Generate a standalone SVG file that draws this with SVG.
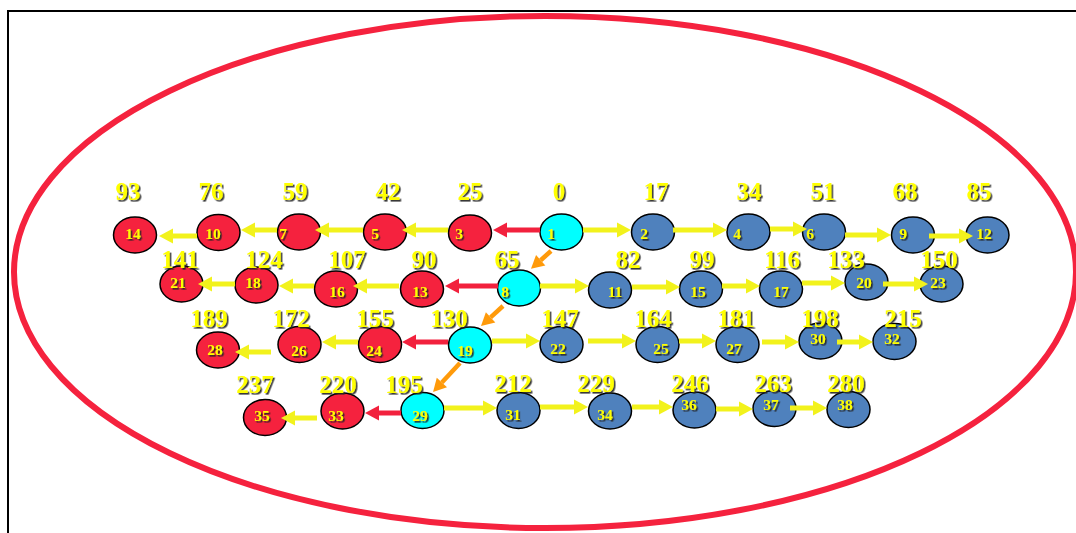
<svg xmlns="http://www.w3.org/2000/svg" width="1076" height="533" viewBox="0 0 1076 533">
<defs>
<filter id="sh" x="-30%" y="-30%" width="160%" height="160%"><feDropShadow dx="1.6" dy="1.6" stdDeviation="0.6" flood-color="#222" flood-opacity="0.9"/></filter>
<marker id="ay" markerUnits="userSpaceOnUse" markerWidth="16" markerHeight="16" viewBox="0 -8 16 16" refX="0" refY="0" orient="auto" overflow="visible"><path d="M0,-7.5 L14,0 L0,7.5z" fill="#f2f21c"/></marker>
<marker id="ar" markerUnits="userSpaceOnUse" markerWidth="16" markerHeight="16" viewBox="0 -8 16 16" refX="0" refY="0" orient="auto" overflow="visible"><path d="M0,-7.5 L14,0 L0,7.5z" fill="#f2213d"/></marker>
<marker id="ao" markerUnits="userSpaceOnUse" markerWidth="16" markerHeight="16" viewBox="0 -8 16 16" refX="0" refY="0" orient="auto" overflow="visible"><path d="M0,-7 L13,0 L0,7z" fill="#ff9a0a"/></marker>
</defs>
<style>
.r{fill:#f5223e;stroke:#000;stroke-width:1.5}
.b{fill:#4f81bd;stroke:#000;stroke-width:1.5}
.c{fill:#00ffff;stroke:#000;stroke-width:1.5}
.n{font-family:"Liberation Serif","Times New Roman",serif;font-weight:bold;font-size:15.5px;fill:#ffff00;text-anchor:middle;filter:url(#sh)}
.d{font-family:"Liberation Serif","Times New Roman",serif;font-weight:bold;font-size:25px;fill:#ffff00;text-anchor:middle;filter:url(#sh)}
.y{stroke:#f2f21c;stroke-width:5;fill:none;marker-end:url(#ay)}
.rr{stroke:#f2213d;stroke-width:5;fill:none;marker-end:url(#ar)}
.o{stroke:#ff9a0a;stroke-width:4.5;fill:none;marker-end:url(#ao)}
</style>
<rect x="0" y="0" width="1076" height="533" fill="#fff"/>
<rect x="8" y="11" width="1090" height="540" fill="none" stroke="#000" stroke-width="2"/>
<ellipse cx="545" cy="272" rx="531" ry="256" fill="none" stroke="#f5223e" stroke-width="6"/>

<g id="n14"><ellipse class="r" cx="135" cy="235" rx="21.5" ry="18"/><text class="n" x="133" y="239">14</text><text class="d" x="128" y="200">93</text></g>
<g id="n10"><ellipse class="r" cx="218.5" cy="232.5" rx="21.5" ry="18"/><text class="n" x="213" y="239">10</text><text class="d" x="211" y="200">76</text></g>
<g id="n7"><ellipse class="r" cx="299" cy="232" rx="21.5" ry="18"/><text class="n" x="283" y="239">7</text><text class="d" x="295" y="200">59</text></g>
<g id="n5"><ellipse class="r" cx="385" cy="232" rx="21.5" ry="18"/><text class="n" x="375" y="239">5</text><text class="d" x="388" y="200">42</text></g>
<g id="n3"><ellipse class="r" cx="470" cy="233" rx="21.5" ry="18"/><text class="n" x="459" y="239">3</text><text class="d" x="470" y="200">25</text></g>
<g id="n1"><ellipse class="c" cx="561.5" cy="232" rx="21.5" ry="18"/><text class="n" x="551" y="239">1</text><text class="d" x="559" y="200">0</text></g>
<g id="n2"><ellipse class="b" cx="653" cy="232" rx="21.5" ry="18"/><text class="n" x="644" y="239">2</text><text class="d" x="656" y="200">17</text></g>
<g id="n4"><ellipse class="b" cx="748.5" cy="232" rx="21.5" ry="18"/><text class="n" x="737" y="239">4</text><text class="d" x="749" y="200">34</text></g>
<g id="n6"><ellipse class="b" cx="824" cy="232" rx="21.5" ry="18"/><text class="n" x="810" y="239">6</text><text class="d" x="823" y="200">51</text></g>
<g id="n9"><ellipse class="b" cx="913" cy="235" rx="21.5" ry="18"/><text class="n" x="903" y="239">9</text><text class="d" x="905" y="200">68</text></g>
<g id="n12"><ellipse class="b" cx="987.5" cy="235" rx="21.5" ry="18"/><text class="n" x="984" y="239">12</text><text class="d" x="979" y="200">85</text></g>

<g id="n21"><ellipse class="r" cx="181.5" cy="284" rx="21.5" ry="18"/><text class="n" x="178" y="288">21</text><text class="d" x="180" y="268">141</text></g>
<g id="n18"><ellipse class="r" cx="256.5" cy="285" rx="21.5" ry="18"/><text class="n" x="253" y="288">18</text><text class="d" x="264" y="268">124</text></g>
<g id="n16"><ellipse class="r" cx="336" cy="289" rx="21.5" ry="18"/><text class="n" x="337" y="297">16</text><text class="d" x="347" y="268">107</text></g>
<g id="n13"><ellipse class="r" cx="422" cy="289" rx="21.5" ry="18"/><text class="n" x="420" y="297">13</text><text class="d" x="424" y="268">90</text></g>
<g id="n8"><ellipse class="c" cx="519" cy="288" rx="21.5" ry="18"/><text class="n" x="505" y="297">8</text><text class="d" x="507" y="268">65</text></g>
<g id="n11"><ellipse class="b" cx="610" cy="290" rx="21.5" ry="18"/><text class="n" x="615" y="297">11</text><text class="d" x="628" y="268">82</text></g>
<g id="n15"><ellipse class="b" cx="701" cy="289" rx="21.5" ry="18"/><text class="n" x="698" y="297">15</text><text class="d" x="702" y="268">99</text></g>
<g id="n17"><ellipse class="b" cx="781" cy="289" rx="21.5" ry="18"/><text class="n" x="781" y="297">17</text><text class="d" x="782" y="268">116</text></g>
<g id="n20"><ellipse class="b" cx="866.5" cy="282" rx="21.5" ry="18"/><text class="n" x="864" y="288">20</text><text class="d" x="846" y="268">133</text></g>
<g id="n23"><ellipse class="b" cx="941.5" cy="284" rx="21.5" ry="18"/><text class="n" x="938" y="288">23</text><text class="d" x="939" y="268">150</text></g>

<g id="n28"><ellipse class="r" cx="218" cy="350" rx="21.5" ry="18"/><text class="n" x="215" y="355">28</text><text class="d" x="209" y="327">189</text></g>
<g id="n26"><ellipse class="r" cx="299.5" cy="344.5" rx="21.5" ry="18"/><text class="n" x="299" y="356">26</text><text class="d" x="291" y="327">172</text></g>
<g id="n24"><ellipse class="r" cx="380" cy="344.5" rx="21.5" ry="18"/><text class="n" x="374" y="356">24</text><text class="d" x="375" y="327">155</text></g>
<g id="n19"><ellipse class="c" cx="470" cy="345" rx="21.5" ry="18"/><text class="n" x="465" y="356">19</text><text class="d" x="449" y="327">130</text></g>
<g id="n22"><ellipse class="b" cx="561.5" cy="344.5" rx="21.5" ry="18"/><text class="n" x="558" y="354">22</text><text class="d" x="560" y="327">147</text></g>
<g id="n25"><ellipse class="b" cx="657.5" cy="344.5" rx="21.5" ry="18"/><text class="n" x="661" y="354">25</text><text class="d" x="653" y="327">164</text></g>
<g id="n27"><ellipse class="b" cx="737.5" cy="344.5" rx="21.5" ry="18"/><text class="n" x="734" y="354">27</text><text class="d" x="736" y="327">181</text></g>
<g id="n30"><ellipse class="b" cx="820.5" cy="341" rx="21.5" ry="18"/><text class="n" x="818" y="344">30</text><text class="d" x="820" y="327">198</text></g>
<g id="n32"><ellipse class="b" cx="894.5" cy="341.5" rx="21.5" ry="18"/><text class="n" x="892" y="344">32</text><text class="d" x="903" y="327">215</text></g>

<g id="n35"><ellipse class="r" cx="265" cy="417.5" rx="21.5" ry="18"/><text class="n" x="262" y="421">35</text><text class="d" x="255" y="393">237</text></g>
<g id="n33"><ellipse class="r" cx="342.5" cy="411" rx="21.5" ry="18"/><text class="n" x="336" y="421">33</text><text class="d" x="338" y="393">220</text></g>
<g id="n29"><ellipse class="c" cx="422.5" cy="410.5" rx="21.5" ry="18"/><text class="n" x="420" y="421">29</text><text class="d" x="404" y="393">195</text></g>
<g id="n31"><ellipse class="b" cx="518.5" cy="410.5" rx="21.5" ry="18"/><text class="n" x="513" y="420">31</text><text class="d" x="513" y="392">212</text></g>
<g id="n34"><ellipse class="b" cx="610" cy="411" rx="21.5" ry="18"/><text class="n" x="605" y="420">34</text><text class="d" x="596" y="392">229</text></g>
<g id="n36"><ellipse class="b" cx="694.5" cy="410" rx="21.5" ry="18"/><text class="n" x="689" y="410">36</text><text class="d" x="690" y="392">246</text></g>
<g id="n37"><ellipse class="b" cx="774.5" cy="408.5" rx="21.5" ry="18"/><text class="n" x="771" y="410">37</text><text class="d" x="773" y="392">263</text></g>
<g id="n38"><ellipse class="b" cx="848.5" cy="409.5" rx="21.5" ry="18"/><text class="n" x="845" y="410">38</text><text class="d" x="846" y="392">280</text></g>

<g id="connectors">
<line class="y" x1="197" y1="236" x2="173" y2="236"/>
<line class="y" x1="277" y1="230" x2="255" y2="230"/>
<line class="y" x1="363" y1="230" x2="329" y2="230"/>
<line class="y" x1="448" y1="230" x2="416" y2="230"/>
<line class="rr" x1="540" y1="230" x2="507" y2="230"/>
<line class="y" x1="583" y1="230" x2="617" y2="230"/>
<line class="y" x1="673" y1="230" x2="713" y2="230"/>
<line class="y" x1="770" y1="229" x2="793" y2="229"/>
<line class="y" x1="845" y1="235" x2="877" y2="235"/>
<line class="y" x1="929" y1="236" x2="959" y2="236"/>
<line class="o" x1="551" y1="251" x2="540.7" y2="260.2"/>
<line class="y" x1="235" y1="284" x2="212" y2="284"/>
<line class="y" x1="314" y1="286" x2="293" y2="286"/>
<line class="y" x1="399" y1="286" x2="367" y2="286"/>
<line class="rr" x1="498" y1="286" x2="459" y2="286"/>
<line class="y" x1="540" y1="286" x2="575" y2="286"/>
<line class="y" x1="632" y1="287" x2="666" y2="287"/>
<line class="y" x1="722" y1="286" x2="746" y2="286"/>
<line class="y" x1="802" y1="283" x2="831" y2="283"/>
<line class="y" x1="883" y1="284" x2="914" y2="284"/>
<line class="o" x1="503" y1="306" x2="490.6" y2="317.3"/>
<line class="y" x1="271" y1="352" x2="249" y2="352"/>
<line class="y" x1="358" y1="342" x2="336" y2="342"/>
<line class="rr" x1="448" y1="342" x2="416" y2="342"/>
<line class="y" x1="492" y1="341" x2="526" y2="341"/>
<line class="y" x1="588" y1="341" x2="622" y2="341"/>
<line class="y" x1="679" y1="341" x2="702" y2="341"/>
<line class="y" x1="762" y1="342" x2="785" y2="342"/>
<line class="y" x1="837" y1="342" x2="859" y2="342"/>
<line class="o" x1="460" y1="363" x2="441.9" y2="382.5"/>
<line class="y" x1="317" y1="418" x2="295" y2="418"/>
<line class="rr" x1="401" y1="413" x2="379" y2="413"/>
<line class="y" x1="444" y1="408" x2="483" y2="408"/>
<line class="y" x1="540" y1="407" x2="574" y2="407"/>
<line class="y" x1="632" y1="407" x2="659" y2="407"/>
<line class="y" x1="716" y1="409" x2="739" y2="409"/>
<line class="y" x1="790" y1="408" x2="813" y2="408"/>
</g>
</svg>
